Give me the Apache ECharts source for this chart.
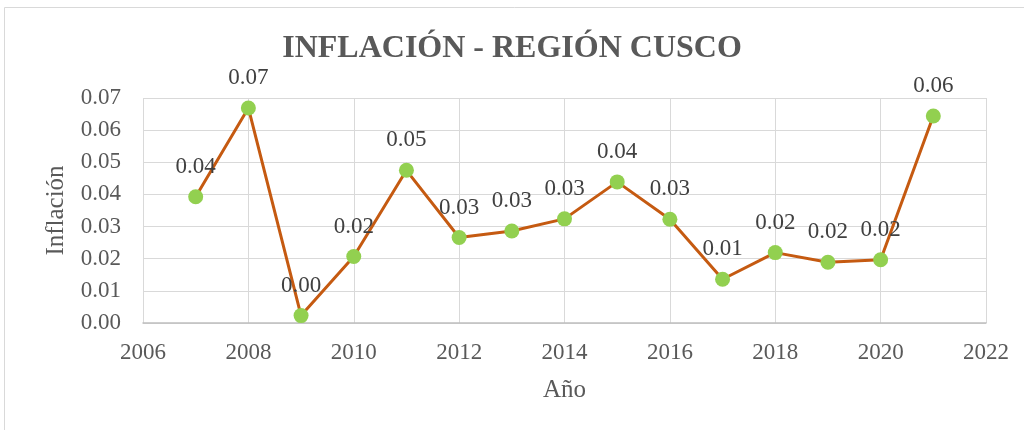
<!DOCTYPE html>
<html>
<head>
<meta charset="utf-8">
<script src="https://cdn.jsdelivr.net/npm/echarts@6/dist/echarts.min.js"></script>
<style>
html, body { margin: 0; padding: 0; background: #fff; }
#chart { width: 1024px; height: 430px; }
</style>
</head>
<body>
<div id="chart"></div>
<script>
var years = [2007, 2008, 2009, 2010, 2011, 2012, 2013, 2014, 2015, 2016, 2017, 2018, 2019, 2020, 2021];
var inflacion = [0.0393, 0.0669, 0.0023, 0.0207, 0.0475, 0.0266, 0.0286, 0.0324, 0.0439, 0.0323, 0.0136, 0.0219, 0.0189, 0.0197, 0.0644];

var serif = '"Liberation Serif", "DejaVu Serif", serif';

var chart = echarts.init(document.getElementById('chart'));
var option = {
	animation: false,
	graphic: [{
		type: 'rect',
		shape: { x: 4.5, y: 7.5, width: 1040, height: 440 },
		style: { fill: 'none', stroke: '#D9D9D9', lineWidth: 1 }
	}],
	title: {
		text: 'INFLACIÓN - REGIÓN CUSCO',
		left: 'center',
		top: 28,
		textStyle: { fontFamily: serif, fontSize: 32, fontWeight: 'bold', color: '#595959' }
	},
	grid: { left: 143, right: 38, top: 98, bottom: 107 },
	xAxis: {
		type: 'value',
		min: 2006,
		max: 2022,
		interval: 2,
		name: 'Año',
		nameLocation: 'middle',
		nameGap: 55,
		nameTextStyle: { fontFamily: serif, fontSize: 25, color: '#595959' },
		axisLine: { show: true, onZero: false, lineStyle: { color: '#BFBFBF', width: 1.5 } },
		axisTick: { show: false },
		splitLine: { show: true, lineStyle: { color: '#D9D9D9', width: 1 } },
		axisLabel: {
			fontFamily: serif, fontSize: 23, color: '#595959', margin: 18,
			formatter: function (v) { return String(v); }
		}
	},
	yAxis: {
		type: 'value',
		min: 0,
		max: 0.07,
		interval: 0.01,
		name: 'Inflación',
		nameLocation: 'middle',
		nameGap: 74,
		nameTextStyle: { fontFamily: serif, fontSize: 25, color: '#595959' },
		axisLine: { show: false },
		axisTick: { show: false },
		splitLine: { show: true, lineStyle: { color: '#D9D9D9', width: 1 } },
		axisLabel: {
			fontFamily: serif, fontSize: 23, color: '#595959', margin: 22,
			formatter: function (v) { return v.toFixed(2); }
		}
	},
	series: [{
		type: 'line',
		data: years.map(function (y, i) { return [y, inflacion[i]]; }),
		symbol: 'circle',
		symbolSize: 15,
		lineStyle: { color: '#C55A11', width: 3 },
		itemStyle: { color: '#92D050', borderWidth: 0 },
		label: {
			show: true,
			position: 'top',
			distance: 11,
			fontFamily: serif,
			fontSize: 23,
			color: '#404040',
			formatter: function (p) { return p.value[1].toFixed(2); }
		}
	}]
};
chart.setOption(option);
</script>
</body>
</html>
